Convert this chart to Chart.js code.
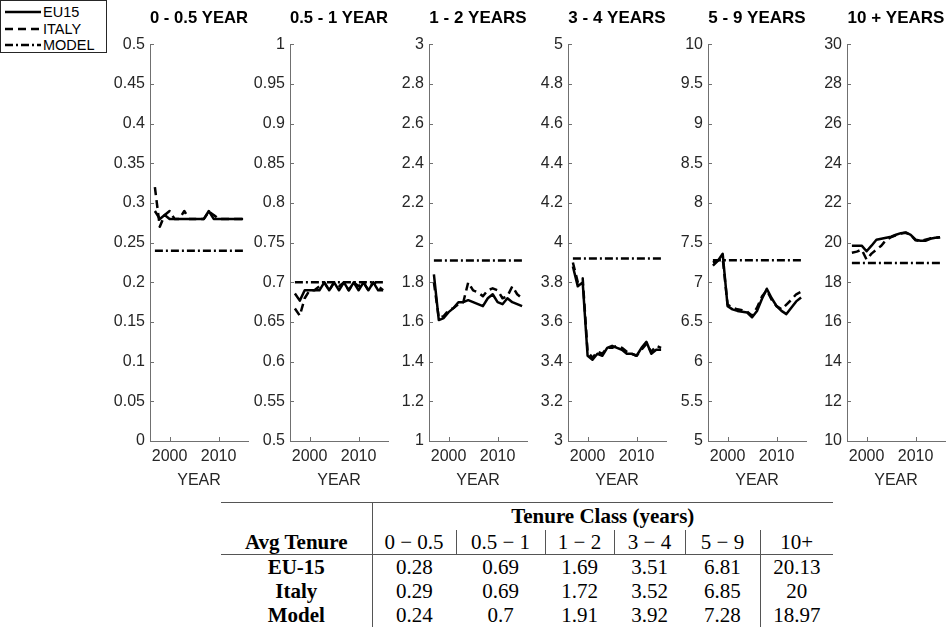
<!DOCTYPE html>
<html>
<head>
<meta charset="utf-8">
<title>Average tenure by tenure class</title>
<script src="https://cdn.jsdelivr.net/npm/chart.js@4.4.1/dist/chart.umd.min.js"></script>
<style>
  html, body { margin: 0; padding: 0; background: #fff; }
  body { width: 946px; height: 633px; position: relative; overflow: hidden;
         font-family: "Liberation Sans", Arial, sans-serif; }
  .panel { position: absolute; top: 0; }
  .panel canvas { display: block; }
  #legend { position: absolute; left: 0px; top: 0px; width: 105px; height: 51px;
            border: 1px solid #262626; background: #fff; z-index: 5; }
  #legend .row { height: 16.5px; display: flex; align-items: center; }
  #legend .row:first-child { margin-top: 3px; }
  #legend svg { margin-left: 4px; }
  #legend span { margin-left: 2px; font-size: 14.5px; color: #000; line-height: 16px; }
  #avg { position: absolute; left: 221px; top: 502px; border-collapse: collapse; table-layout: fixed;
         font-family: "Liberation Serif", "Times New Roman", serif; font-size: 21px; color: #000;
         border-top: 1px solid #555; }
  #avg td { padding: 0; text-align: center; height: 24px; line-height: 24px; white-space: nowrap; }
  #avg tr.top td { height: 27px; line-height: 27px; }
  #avg td.b { font-weight: bold; }
  #avg td.sep { border-right: 1px solid #555; }
  #avg tr.head td { border-bottom: 1px solid #555; }
</style>
</head>
<body>
<div id="legend"></div>
<table id="avg"></table>
<script>
// ---- data --------------------------------------------------------------
const years = [1997, 1998, 1999, 2000, 2001, 2002, 2003, 2004, 2005, 2006,
               2007, 2008, 2009, 2010, 2011, 2012, 2013, 2014, 2015];

const classTitles = ['0 - 0.5 YEAR', '0.5 - 1 YEAR', '1 - 2 YEARS', '3 - 4 YEARS', '5 - 9 YEARS', '10 + YEARS'];
const tableClassLabels = ['0 \u2212 0.5', '0.5 \u2212 1', '1 \u2212 2', '3 \u2212 4', '5 \u2212 9', '10+'];

// EU15 average tenure per year, one array per tenure class
const eu15Class1 = [0.29, 0.28, 0.285, 0.28, 0.28, 0.28, 0.28, 0.28, 0.28, 0.28, 0.28, 0.29, 0.28, 0.28, 0.28, 0.28, 0.28, 0.28, 0.28];
const eu15Class2 = [0.686, 0.677, 0.69, 0.69, 0.69, 0.69, 0.70, 0.69, 0.70, 0.69, 0.70, 0.69, 0.70, 0.69, 0.70, 0.69, 0.70, 0.69, 0.69];
const eu15Class3 = [1.84, 1.61, 1.62, 1.65, 1.67, 1.70, 1.70, 1.71, 1.70, 1.69, 1.68, 1.72, 1.74, 1.70, 1.69, 1.72, 1.70, 1.69, 1.68];
const eu15Class4 = [3.88, 3.78, 3.80, 3.43, 3.41, 3.44, 3.43, 3.47, 3.48, 3.47, 3.46, 3.44, 3.44, 3.43, 3.47, 3.50, 3.44, 3.46, 3.46];
const eu15Class5 = [7.21, 7.27, 7.36, 6.70, 6.66, 6.64, 6.63, 6.62, 6.56, 6.64, 6.79, 6.92, 6.80, 6.70, 6.64, 6.60, 6.68, 6.76, 6.81];
const eu15Class6 = [19.85, 19.85, 19.85, 19.57, 19.85, 20.15, 20.2, 20.25, 20.3, 20.4, 20.48, 20.52, 20.4, 20.15, 20.1, 20.1, 20.2, 20.25, 20.27];

// Italy average tenure per year, one array per tenure class
const italyClass1 = [0.32, 0.27, 0.285, 0.29, 0.28, 0.28, 0.29, 0.28, 0.28, 0.28, 0.28, 0.289, 0.285, 0.28, 0.28, 0.28, 0.28, 0.28, 0.28];
const italyClass2 = [0.667, 0.658, 0.68, 0.69, 0.69, 0.695, 0.70, 0.69, 0.70, 0.695, 0.70, 0.69, 0.70, 0.695, 0.70, 0.69, 0.70, 0.695, 0.69];
const italyClass3 = [1.80, 1.62, 1.63, 1.66, 1.67, 1.69, 1.70, 1.80, 1.76, 1.75, 1.73, 1.76, 1.77, 1.76, 1.72, 1.73, 1.78, 1.74, 1.72];
const italyClass4 = [3.90, 3.80, 3.82, 3.45, 3.42, 3.45, 3.44, 3.47, 3.47, 3.48, 3.47, 3.45, 3.44, 3.43, 3.46, 3.49, 3.45, 3.48, 3.47];
const italyClass5 = [7.25, 7.28, 7.30, 6.72, 6.68, 6.66, 6.65, 6.63, 6.58, 6.68, 6.82, 6.90, 6.78, 6.70, 6.66, 6.72, 6.78, 6.85, 6.88];
const italyClass6 = [19.49, 19.55, 19.65, 19.15, 19.45, 19.65, 19.85, 20.15, 20.28, 20.38, 20.46, 20.5, 20.38, 20.12, 20.08, 20.15, 20.22, 20.24, 20.28];

// period averages (table) — the model level is drawn as a flat line
const eu15Avg  = [0.28, 0.69, 1.69, 3.51, 6.81, 20.13];
const italyAvg = [0.29, 0.69, 1.72, 3.52, 6.85, 20];
const modelAvg = [0.24, 0.7, 1.91, 3.92, 7.28, 18.97];

// axis ticks
const xTicks = [2000, 2010];
const yTicksClass1 = [0, 0.05, 0.1, 0.15, 0.2, 0.25, 0.3, 0.35, 0.4, 0.45, 0.5];
const yTicksClass2 = [0.5, 0.55, 0.6, 0.65, 0.7, 0.75, 0.8, 0.85, 0.9, 0.95, 1];
const yTicksClass3 = [1, 1.2, 1.4, 1.6, 1.8, 2, 2.2, 2.4, 2.6, 2.8, 3];
const yTicksClass4 = [3, 3.2, 3.4, 3.6, 3.8, 4, 4.2, 4.4, 4.6, 4.8, 5];
const yTicksClass5 = [5, 5.5, 6, 6.5, 7, 7.5, 8, 8.5, 9, 9.5, 10];
const yTicksClass6 = [10, 12, 14, 16, 18, 20, 22, 24, 26, 28, 30];

const eu15Series  = [eu15Class1, eu15Class2, eu15Class3, eu15Class4, eu15Class5, eu15Class6];
const italySeries = [italyClass1, italyClass2, italyClass3, italyClass4, italyClass5, italyClass6];
const yTickSets   = [yTicksClass1, yTicksClass2, yTicksClass3, yTicksClass4, yTicksClass5, yTicksClass6];

// ---- styles ------------------------------------------------------------
const FONT = '"Liberation Sans", Arial, sans-serif';
const AXIS_COLOR = '#707070';
const TEXT_COLOR = '#262626';
const seriesStyles = [
  { label: 'EU15',  dash: [] },
  { label: 'ITALY', dash: [8, 5] },
  { label: 'MODEL', dash: [8, 3, 2, 3] }
];
const LINE_W = 2.5;

const fmt = v => String(Math.round(v * 1000) / 1000);

// tick marks pointing into the plot area
const innerTicks = {
  id: 'innerTicks',
  afterDraw(chart) {
    const { ctx, chartArea: { left, bottom } } = chart;
    const xs = chart.scales.x, ys = chart.scales.y;
    ctx.save();
    ctx.strokeStyle = AXIS_COLOR;
    ctx.lineWidth = 1;
    ys.ticks.forEach(t => {
      const p = Math.round(ys.getPixelForValue(t.value)) + 0.5;
      ctx.beginPath(); ctx.moveTo(left, p); ctx.lineTo(left + 4, p); ctx.stroke();
    });
    xs.ticks.forEach(t => {
      const p = Math.round(xs.getPixelForValue(t.value)) + 0.5;
      ctx.beginPath(); ctx.moveTo(p, bottom); ctx.lineTo(p, bottom - 4); ctx.stroke();
    });
    ctx.restore();
  }
};

// ---- panels ------------------------------------------------------------
const CANVAS_W = 150, CANVAS_H = 500, Y_AXIS_W = 50, X_AXIS_H = 59;

classTitles.forEach((title, i) => {
  const axisX = Math.round(150.3 + 139.3 * i);
  const wrap = document.createElement('div');
  wrap.className = 'panel';
  wrap.style.left = (axisX - Y_AXIS_W) + 'px';
  const cv = document.createElement('canvas');
  cv.width = CANVAS_W; cv.height = CANVAS_H;
  cv.style.width = CANVAS_W + 'px'; cv.style.height = CANVAS_H + 'px';
  wrap.appendChild(cv);
  document.body.appendChild(wrap);

  const ticks = yTickSets[i];
  const lineSet = (label, values, style) => ({
    label, data: values, borderColor: '#000', backgroundColor: '#000',
    borderWidth: LINE_W, borderDash: style.dash, pointRadius: 0, tension: 0,
    fill: false, borderJoinStyle: 'round', borderCapStyle: 'butt'
  });

  new Chart(cv, {
    type: 'line',
    data: {
      datasets: [
        lineSet('EU15', years.map((x, k) => ({ x, y: eu15Series[i][k] })), seriesStyles[0]),
        lineSet('ITALY', years.map((x, k) => ({ x, y: italySeries[i][k] })), seriesStyles[1]),
        lineSet('MODEL', [{ x: years[0], y: modelAvg[i] }, { x: years[years.length - 1], y: modelAvg[i] }], seriesStyles[2])
      ]
    },
    options: {
      responsive: false,
      animation: false,
      devicePixelRatio: 1,
      layout: { padding: { left: 0, right: 2, top: 0, bottom: 0 } },
      plugins: {
        legend: { display: false },
        tooltip: { enabled: false },
        title: {
          display: true, text: title, fullSize: false, color: '#000',
          font: { family: FONT, size: 17, weight: 'bold' },
          padding: { top: 8, bottom: 16 }
        }
      },
      scales: {
        x: {
          type: 'linear', min: 1996, max: 2016,
          afterBuildTicks: s => { s.ticks = xTicks.map(v => ({ value: v })); },
          afterFit: s => { s.height = X_AXIS_H; },
          ticks: { color: TEXT_COLOR, font: { family: FONT, size: 16 }, padding: 6,
                   maxRotation: 0, autoSkip: false, callback: v => String(v) },
          grid: { display: false, drawTicks: false },
          border: { display: true, color: AXIS_COLOR, width: 1 },
          title: { display: true, text: 'YEAR', color: TEXT_COLOR,
                   font: { family: FONT, size: 16 }, padding: { top: 10, bottom: 10 } }
        },
        y: {
          type: 'linear', min: ticks[0], max: ticks[ticks.length - 1],
          afterBuildTicks: s => { s.ticks = ticks.map(v => ({ value: v })); },
          afterFit: s => { s.width = Y_AXIS_W; },
          ticks: { color: TEXT_COLOR, font: { family: FONT, size: 16 }, padding: 5,
                   autoSkip: false, callback: v => fmt(v) },
          grid: { display: false, drawTicks: false },
          border: { display: true, color: AXIS_COLOR, width: 1 }
        }
      }
    },
    plugins: [innerTicks]
  });
});

// ---- legend ------------------------------------------------------------
const legend = document.getElementById('legend');
seriesStyles.forEach(s => {
  const row = document.createElement('div');
  row.className = 'row';
  const dash = s.dash.length ? ` stroke-dasharray="${s.dash.join(' ')}"` : '';
  row.innerHTML = `<svg width="36" height="6"><line x1="0" y1="3" x2="36" y2="3" stroke="#000" stroke-width="${LINE_W}"${dash}/></svg><span>${s.label}</span>`;
  legend.appendChild(row);
});

// ---- table -------------------------------------------------------------
const colWidths = [151, 84, 89, 69, 71, 75, 73];
const rowNames = ['EU-15', 'Italy', 'Model'];
const rowValues = [eu15Avg, italyAvg, modelAvg];
const table = document.getElementById('avg');
let html = '<colgroup>' + colWidths.map(w => `<col style="width:${w}px">`).join('') + '</colgroup>';
html += '<tr class="top"><td class="sep"></td><td class="b" colspan="6">Tenure Class (years)</td></tr>';
html += '<tr class="head"><td class="b sep">Avg Tenure</td>' +
  tableClassLabels.map((l, k) => `<td class="${k < 5 ? 'sep' : ''}">${l}</td>`).join('') + '</tr>';
rowNames.forEach((name, r) => {
  html += `<tr><td class="b sep">${name}</td>` +
    rowValues[r].map((v, k) => `<td class="${k === 4 ? 'sep' : ''}">${v}</td>`).join('') + '</tr>';
});
table.innerHTML = html;
</script>
</body>
</html>
